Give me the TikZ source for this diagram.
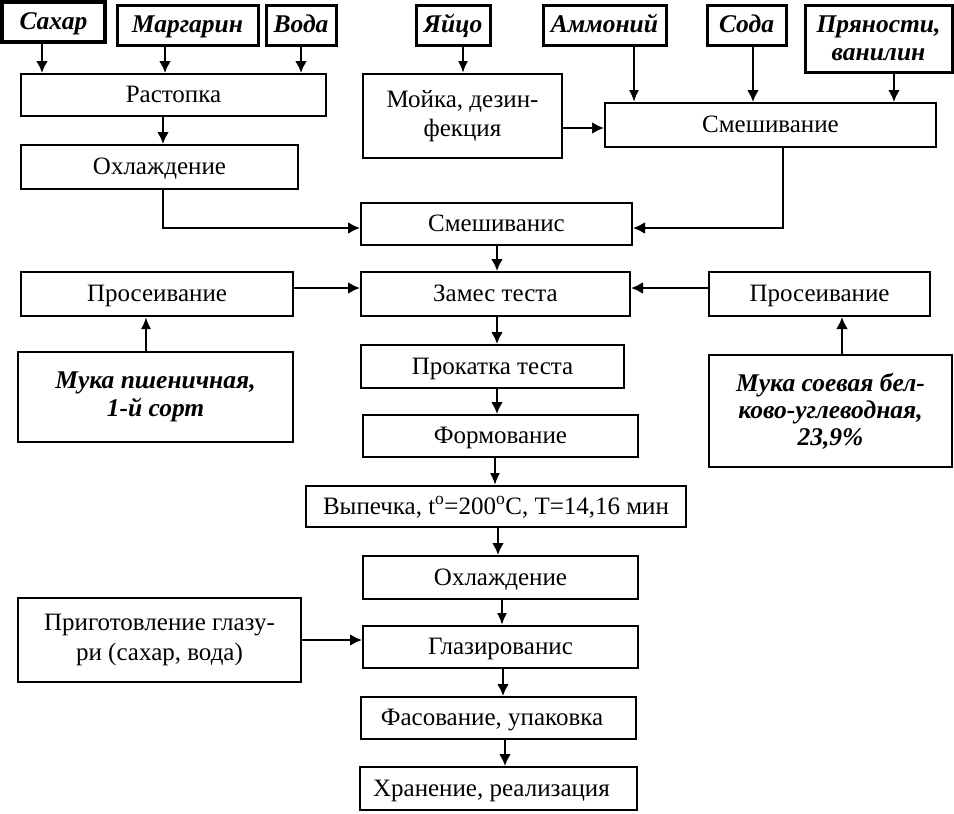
\documentclass[tikz,border=0pt]{standalone}
\usepackage{fontspec}
\setmainfont{Liberation Serif}
\usetikzlibrary{arrows.meta}
\begin{document}
\begin{tikzpicture}[x=1pt,y=-1pt,
  every node/.style={font=\fontsize{25}{29.5}\selectfont},
  box/.style={draw, line width=2pt, inner sep=0pt, align=center},
  one/.style={text height=16pt, text depth=1pt},
  ing/.style={draw, line width=3pt, inner sep=0pt, align=center, font=\fontsize{25.5}{28}\selectfont\bfseries\itshape},
  arr/.style={line width=2.8pt, -{Latex[length=12pt,width=12pt]}},
  arrt/.style={line width=2pt, -{Latex[length=12pt,width=10pt]}}]
\useasboundingbox (0,0) rectangle (954,814);
% inputs
\node[ing, one, line width=3.4pt, minimum width=103, minimum height=40] (sahar) at (53.5,22) {Сахар};
\node[ing, one, minimum width=141, minimum height=40] (marg) at (187.5,25) {Маргарин};
\node[ing, one, minimum width=70, minimum height=40] (voda) at (301,25) {Вода};
\node[ing, one, minimum width=74, minimum height=40] (egg) at (453,25) {Яйцо};
\node[ing, one, minimum width=123, minimum height=40] (amm) at (604.5,25) {Аммоний};
\node[ing, one, minimum width=79, minimum height=40] (soda) at (746.5,25) {Сода};
\node[ing, minimum width=147, minimum height=67] (spice) at (878.5,38.5) {Пряности,\\ванилин};
% process boxes
\node[box, one, minimum width=305, minimum height=42] (rast) at (173.5,95) {Растопка};
\node[box, one, minimum width=277, minimum height=44] (ohl1) at (159.5,167) {Охлаждение};
\node[box, minimum width=199, minimum height=84] (moika) at (462.5,116) {Мойка, дезин-\\фекция};
\node[box, one, minimum width=331, minimum height=44] (smesh1) at (770.5,125) {Смешивание};
\node[box, one, minimum width=271, minimum height=42] (smesh2) at (496.5,224) {Смешиванис};
\node[box, one, minimum width=272, minimum height=44] (prosL) at (157,294) {Просеивание};
\node[box, one, minimum width=269, minimum height=44] (zames) at (495.5,294) {Замес теста};
\node[box, one, minimum width=221, minimum height=44] (prosR) at (819.5,294) {Просеивание};
\node[ing, line width=2.3pt, minimum width=275, minimum height=90] (mukaP) at (155.5,397) {Мука пшеничная,\\1-й сорт};
\node[ing, line width=2.3pt, minimum width=243, minimum height=112, font=\fontsize{25.5}{27}\selectfont\bfseries\itshape] (mukaS) at (830.5,411) {Мука соевая бел-\\ково-углеводная,\\23,9\%};
\node[box, one, minimum width=263, minimum height=43] (prokat) at (492.5,366.5) {Прокатка теста};
\node[box, one, minimum width=275, minimum height=42] (form) at (500.5,436) {Формование};
\node[box, one, minimum width=380, minimum height=41] (vyp) at (496,506.5) {Выпечка, t\textsuperscript{o}=200\textsuperscript{o}C, T=14,16 мин};
\node[box, one, minimum width=275, minimum height=43] (ohl2) at (500.5,577.5) {Охлаждение};
\node[box, minimum width=283, minimum height=84] (glazur) at (159.5,640) {Приготовление глазу-\\ри (сахар, вода)};
\node[box, one, minimum width=275, minimum height=42] (glaz) at (500.5,647) {Глазированис};
\node[box, one, minimum width=275, minimum height=42] (fas) at (498.5,718) {Фасование, упаковка\hspace{13pt}};
\node[box, one, minimum width=277, minimum height=43] (hran) at (498.5,788.5) {Хранение, реализация\hspace{14pt}};
% arrows top
\draw[arr] (sahar.south -| 42,0) -- (rast.north -| 42,0);
\draw[arr] (marg.south -| 165,0) -- (rast.north -| 165,0);
\draw[arr] (voda.south -| 301,0) -- (rast.north -| 301,0);
\draw[arr] (rast.south -| 163,0) -- (ohl1.north -| 163,0);
\draw[arrt] (egg.south -| 463,0) -- (moika.north -| 463,0);
\draw[arrt] (amm.south -| 634,0) -- (smesh1.north -| 634,0);
\draw[arr] (soda.south -| 753,0) -- (smesh1.north -| 753,0);
\draw[arr] (spice.south -| 894,0) -- (smesh1.north -| 894,0);
\draw[arr] (moika.east |- 0,128) -- (smesh1.west |- 0,128);
\draw[arr] (ohl1.south -| 163,0) |- (smesh2.west |- 0,228);
\draw[arr] (smesh1.south -| 783,0) |- (smesh2.east |- 0,228);
\draw[arr] (smesh2.south -| 497,0) -- (zames.north -| 497,0);
\draw[arr] (prosL.east |- 0,288) -- (zames.west |- 0,288);
\draw[arr] (prosR.west |- 0,288) -- (zames.east |- 0,288);
\draw[arrt] (mukaP.north -| 146,0) -- (prosL.south -| 146,0);
\draw[arr] (mukaS.north -| 842,0) -- (prosR.south -| 842,0);
\draw[arr] (zames.south -| 497,0) -- (prokat.north -| 497,0);
\draw[arr] (prokat.south -| 497,0) -- (form.north -| 497,0);
\draw[arrt] (form.south -| 495,0) -- (vyp.north -| 495,0);
\draw[arr] (vyp.south -| 498,0) -- (ohl2.north -| 498,0);
\draw[arrt] (ohl2.south -| 502,0) -- (glaz.north -| 502,0);
\draw[arr] (glazur.east |- 0,640) -- (glaz.west |- 0,640);
\draw[arr] (glaz.south -| 503,0) -- (fas.north -| 503,0);
\draw[arr] (fas.south -| 505,0) -- (hran.north -| 505,0);
\end{tikzpicture}
\end{document}
